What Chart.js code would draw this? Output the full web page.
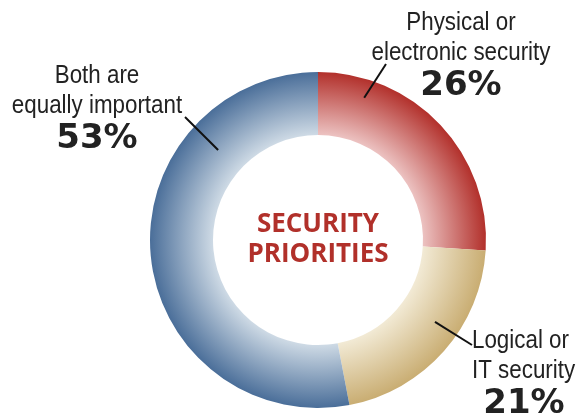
<!DOCTYPE html>
<html>
<head>
    <title>Security Priorities</title>
    <script src="https://cdn.jsdelivr.net/npm/chart.js"></script>
    <style>
        body { margin: 0; background: #fff; }
        #wrap { width: 585px; height: 415px; position: relative; }
    </style>
</head>
<body>
    <div id="wrap"><canvas id="myChart" width="585" height="415"></canvas></div>
    <script>
        // Chart data (clockwise from 12 o'clock)
        const categories = ['Physical or electronic security', 'Logical or IT security', 'Both are equally important'];
        const shares = [26, 21, 53];
        const centerTitle = ['SECURITY', 'PRIORITIES'];

        // light (inner) -> dark (outer) for each slice
        const innerColors = ['#ecc2c1', '#f2ead5', '#cedae5'];
        const outerColors = ['#b2302b', '#c9ad72', '#4a6e99'];

        const CUTOUT = 0.625;

        // label text, anchor and leader line (angle in degrees, canvas convention)
        const labels = [
            { lines: ['Physical or', 'electronic security'], pct: '26%', x: 461, y: 30, align: 'center', leadAngle: -72, leadR: 0.89, leadTo: [386, 64] },
            { lines: ['Logical or', 'IT security'], pct: '21%', x: 472, y: 348, align: 'left', pctX: 524, leadAngle: 35, leadR: 0.85, leadTo: [472, 345] },
            { lines: ['Both are', 'equally important'], pct: '53%', x: 97, y: 83, align: 'center', leadAngle: -138, leadR: 0.80, leadTo: [185, 117] }
        ];

        function ringGeometry(chart) {
            const a = chart.chartArea;
            const R = Math.min(a.right - a.left, a.bottom - a.top) / 2;
            return { cx: (a.left + a.right) / 2, cy: (a.top + a.bottom) / 2, R: R, r: R * CUTOUT };
        }

        function sliceGradient(context) {
            const chart = context.chart;
            if (!chart.chartArea) return outerColors[context.dataIndex];
            const g0 = ringGeometry(chart);
            const g = chart.ctx.createRadialGradient(g0.cx, g0.cy, g0.r, g0.cx, g0.cy, g0.R);
            g.addColorStop(0, innerColors[context.dataIndex]);
            g.addColorStop(1, outerColors[context.dataIndex]);
            return g;
        }

        // narrow text: draw regular face squeezed horizontally
        function narrowText(ctx, text, x, y, align, squeeze) {
            ctx.save();
            ctx.translate(x, y);
            ctx.scale(squeeze, 1);
            ctx.textAlign = align;
            ctx.fillText(text, 0, 0);
            ctx.restore();
        }

        const labelPlugin = {
            id: 'sliceLabels',
            afterDraw(chart) {
                const ctx = chart.ctx;
                const geo = ringGeometry(chart);
                const cx = geo.cx, cy = geo.cy, R = geo.R;

                ctx.save();
                // center title
                ctx.fillStyle = '#b1302a';
                ctx.textAlign = 'center';
                ctx.textBaseline = 'alphabetic';
                ctx.font = 'bold 26px "Open Sans", sans-serif';
                ctx.fillText(centerTitle[0], cx, cy - 8);
                ctx.fillText(centerTitle[1], cx, cy + 22);

                labels.forEach(l => {
                    ctx.fillStyle = '#222';
                    ctx.font = '26px "Liberation Sans", sans-serif';
                    l.lines.forEach((t, i) => narrowText(ctx, t, l.x, l.y + i * 30, l.align, 0.86));
                    ctx.textAlign = 'center';
                    ctx.font = 'bold 34px "DejaVu Sans", sans-serif';
                    ctx.fillText(l.pct, l.pctX || l.x, l.y + 65);

                    // leader line
                    const a = l.leadAngle * Math.PI / 180;
                    ctx.strokeStyle = '#111';
                    ctx.lineWidth = 2;
                    ctx.beginPath();
                    ctx.moveTo(cx + Math.cos(a) * R * l.leadR, cy + Math.sin(a) * R * l.leadR);
                    ctx.lineTo(l.leadTo[0], l.leadTo[1]);
                    ctx.stroke();
                });
                ctx.restore();
            }
        };

        const ctx = document.getElementById('myChart').getContext('2d');
        const chart = new Chart(ctx, {
            type: 'doughnut',
            data: {
                labels: categories,
                datasets: [{
                    data: shares,
                    backgroundColor: sliceGradient,
                    borderWidth: 0
                }]
            },
            options: {
                responsive: false,
                animation: false,
                cutout: (CUTOUT * 100) + '%',
                layout: { padding: { left: 150, right: 99, top: 72, bottom: 7 } },
                plugins: {
                    legend: { display: false },
                    tooltip: { enabled: false }
                }
            },
            plugins: [labelPlugin]
        });
    </script>
</body>
</html>
